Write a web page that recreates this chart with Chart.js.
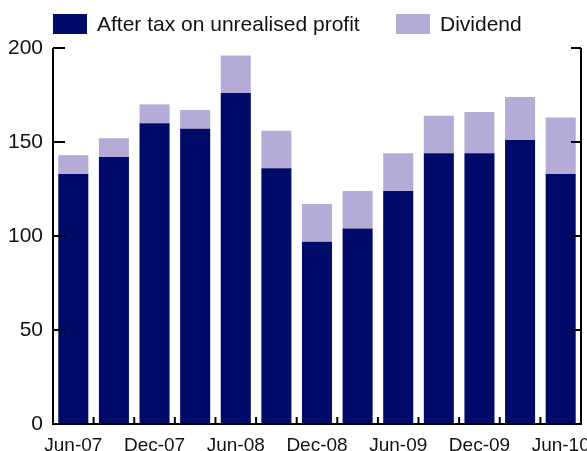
<!DOCTYPE html>
<html>
<head>
<meta charset="utf-8">
<script src="https://cdn.jsdelivr.net/npm/chart.js@4.4.0/dist/chart.umd.min.js"></script>
<style>
    body { margin: 0; background: #ffffff; }
    #wrap { position: relative; width: 587px; height: 451px; }
    .leg { position: absolute; top: 13px; height: 22px; display: flex; align-items: center;
           font: 21px 'Liberation Sans', Arial, sans-serif; color: #111; white-space: nowrap; }
    .leg span.box { display: inline-block; width: 34px; height: 20px; margin-right: 10px; }
</style>
</head>
<body>
<div id="wrap">
    <canvas id="profitChart" width="587" height="451"></canvas>
    <div class="leg" style="left:53px"><span class="box" style="background:#000b69"></span>After tax on unrealised profit</div>
    <div class="leg" style="left:396px"><span class="box" style="background:#b4acd6"></span>Dividend</div>
</div>
<script>
// Datos (trimestres)
const quarters = ['Jun-07', 'Sep-07', 'Dec-07', 'Mar-08', 'Jun-08', 'Sep-08', 'Dec-08',
    'Mar-09', 'Jun-09', 'Sep-09', 'Dec-09', 'Mar-10', 'Jun-10'];
const afterTax = [133, 142, 160, 157, 176, 136, 97, 104, 124, 144, 144, 151, 133];
const dividend = [10, 10, 10, 10, 20, 20, 20, 20, 20, 20, 22, 23, 30];
const yTicks = [0, 50, 100, 150, 200];

const NAVY = '#000b69';
const LILAC = '#b4acd6';
const FONT = "'Liberation Sans', Arial, sans-serif";

// Marco: ejes izquierdo, derecho e inferior con marcas hacia dentro
const framePlugin = {
    id: 'frame',
    afterDatasetsDraw(chart) {
        const { ctx, chartArea: a, scales: { x, y } } = chart;
        ctx.save();
        ctx.strokeStyle = '#000';
        ctx.lineWidth = 2;
        ctx.beginPath();
        ctx.moveTo(a.left, a.top);
        ctx.lineTo(a.left, a.bottom);
        ctx.lineTo(a.right, a.bottom);
        ctx.lineTo(a.right, a.top);
        yTicks.forEach((v) => {
            if (v === 0) return;
            const py = y.getPixelForValue(v);
            ctx.moveTo(a.left, py);
            ctx.lineTo(a.left + 12, py);
            ctx.moveTo(a.right, py);
            ctx.lineTo(a.right - 10, py);
        });
        for (let i = 0; i < quarters.length - 1; i++) {
            const px = (x.getPixelForValue(i) + x.getPixelForValue(i + 1)) / 2;
            ctx.moveTo(px, a.bottom);
            ctx.lineTo(px, a.bottom - 7);
        }
        ctx.stroke();
        ctx.restore();
    }
};

const ctx = document.getElementById('profitChart').getContext('2d');
new Chart(ctx, {
    type: 'bar',
    data: {
        labels: quarters,
        datasets: [{
            label: 'After tax on unrealised profit',
            data: afterTax,
            backgroundColor: NAVY,
            borderWidth: 0
        },
        {
            label: 'Dividend',
            data: dividend,
            backgroundColor: LILAC,
            borderWidth: 0
        }
        ]
    },
    options: {
        responsive: false,
        animation: false,
        layout: {
            padding: { top: 48, left: 8, right: 6, bottom: 0 }
        },
        plugins: {
            legend: { display: false },
            tooltip: { enabled: false }
        },
        datasets: {
            bar: { categoryPercentage: 1, barPercentage: 0.74 }
        },
        scales: {
            x: {
                stacked: true,
                grid: { display: false, drawTicks: false },
                border: { display: false },
                ticks: {
                    autoSkip: false,
                    maxRotation: 0,
                    padding: 10,
                    color: '#111',
                    font: { family: FONT, size: 19 },
                    callback: (val, i) => (i % 2 === 0 ? quarters[i] : '')
                },
                afterFit(scale) {
                    scale.height = 27;
                    scale.paddingLeft = 0;
                    scale.paddingRight = 0;
                }
            },
            y: {
                stacked: true,
                min: 0,
                max: 200,
                grid: { display: false, drawTicks: false },
                border: { display: false },
                ticks: {
                    stepSize: 50,
                    padding: 10,
                    color: '#111',
                    font: { family: FONT, size: 21 }
                },
                afterFit(scale) {
                    scale.width = 45;
                }
            }
        }
    },
    plugins: [framePlugin]
});
</script>
</body>
</html>
